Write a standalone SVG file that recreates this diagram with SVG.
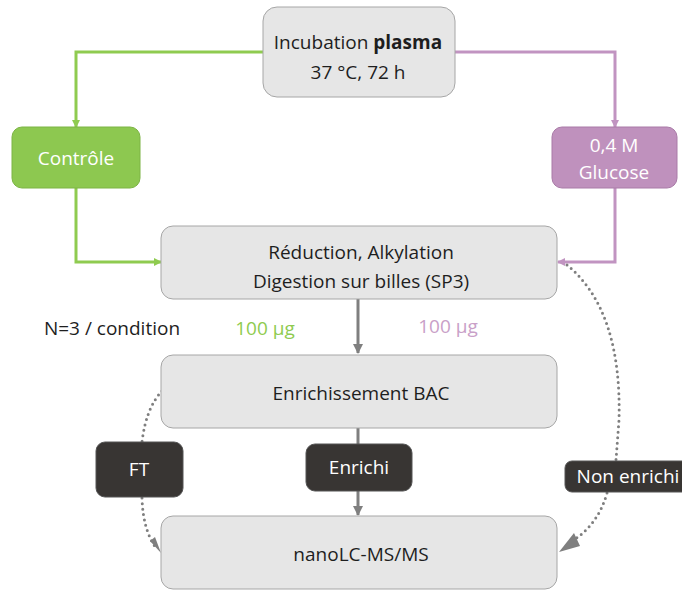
<svg xmlns="http://www.w3.org/2000/svg" width="682" height="590" viewBox="0 0 682 590">
<style>
text{font-family:"Open Sans","Noto Sans",sans-serif;font-size:19px;text-anchor:middle;dominant-baseline:central}
.box{fill:#e6e6e6;stroke:#a6a6a6;stroke-width:1}
.dark{fill:#383533;stroke:#555;stroke-width:1}
.t{fill:#1e1e1e}
.w{fill:#ffffff}
.g{stroke:#8fcb50;stroke-width:3;fill:none}
.p{stroke:#c194c1;stroke-width:3;fill:none}
.gr{stroke:#7f7f7f;stroke-width:3;fill:none}
.dot{stroke:#7f7f7f;stroke-width:3;fill:none;stroke-dasharray:0 5.5;stroke-linecap:round}
</style>
<defs>
<marker id="ag" markerWidth="8" markerHeight="8" refX="7" refY="4" orient="auto" markerUnits="userSpaceOnUse"><path d="M0,0 L8,4 L0,8 Z" fill="#8fcb50"/></marker>
<marker id="ap" markerWidth="8" markerHeight="8" refX="7" refY="4" orient="auto" markerUnits="userSpaceOnUse"><path d="M0,0 L8,4 L0,8 Z" fill="#c194c1"/></marker>
<marker id="agr" markerWidth="10" markerHeight="10" refX="9" refY="5" orient="auto" markerUnits="userSpaceOnUse"><path d="M0,0 L10,5 L0,10 Z" fill="#7f7f7f"/></marker>
</defs>
<g id="connectors">
<path class="g" d="M263,52 H76 V127" marker-end="url(#ag)"/>
<path class="p" d="M455,52 H615 V127" marker-end="url(#ap)"/>
<path class="g" d="M76,188 V262 H161" marker-end="url(#ag)"/>
<path class="p" d="M615,188 V262 H558" marker-end="url(#ap)"/>
<path class="gr" d="M358,299 V353" marker-end="url(#agr)"/>
<path class="gr" d="M358,428 V515" marker-end="url(#agr)"/>
<path class="dot" d="M162,391 Q146,408 142,442"/>
<path class="dot" d="M142,498 Q143,530 156,548"/>
<path d="M150,541 L161,553 L155,537 Z" fill="#7f7f7f"/>
<path class="dot" d="M567,265 Q622,310 619,420 L616,460"/>
<path class="dot" d="M607,493 Q598,525 572,541"/>
<path d="M574,533 L559,552 L580,546 Z" fill="#7f7f7f"/>
</g>
<g id="incubation"><rect class="box" x="263" y="7" width="192" height="90" rx="14"/><text class="t" x="358" y="42">Incubation <tspan font-weight="bold">plasma</tspan></text><text class="t" x="358" y="72">37 °C, 72 h</text></g>
<g id="controle"><rect x="12" y="127" width="128" height="61" rx="10" fill="#8dc850" stroke="#7cb444"/><text class="w" x="76" y="158">Contrôle</text></g>
<g id="glucose"><rect x="552" y="127" width="125" height="61" rx="10" fill="#bf91bd" stroke="#a97ba7"/><text class="w" x="614" y="145">0,4 M</text><text class="w" x="614" y="172">Glucose</text></g>
<g id="reduction"><rect class="box" x="161" y="226" width="396" height="73" rx="12"/><text class="t" x="361" y="252">Réduction, Alkylation</text><text class="t" x="361" y="281">Digestion sur billes (SP3)</text></g>
<g id="labels"><text class="t" x="112" y="328">N=3 / condition</text><text x="265" y="328" fill="#8fcb50">100 µg</text><text x="448" y="326" fill="#c9a0c8">100 µg</text></g>
<g id="enrichissement"><rect class="box" x="161" y="355" width="396" height="73" rx="12"/><text class="t" x="361" y="393">Enrichissement BAC</text></g>
<g id="ft"><rect class="dark" x="96" y="442" width="87" height="55" rx="9"/><text class="w" x="139" y="469">FT</text></g>
<g id="enrichi"><rect class="dark" x="306" y="444" width="106" height="47" rx="9"/><text class="w" x="359" y="467">Enrichi</text></g>
<g id="nonenrichi"><rect class="dark" x="565" y="461" width="130" height="31" rx="7"/><text class="w" x="628" y="476">Non enrichi</text></g>
<g id="nanolc"><rect class="box" x="161" y="516" width="396" height="73" rx="12"/><text class="t" x="361" y="554">nanoLC-MS/MS</text></g>
</svg>
